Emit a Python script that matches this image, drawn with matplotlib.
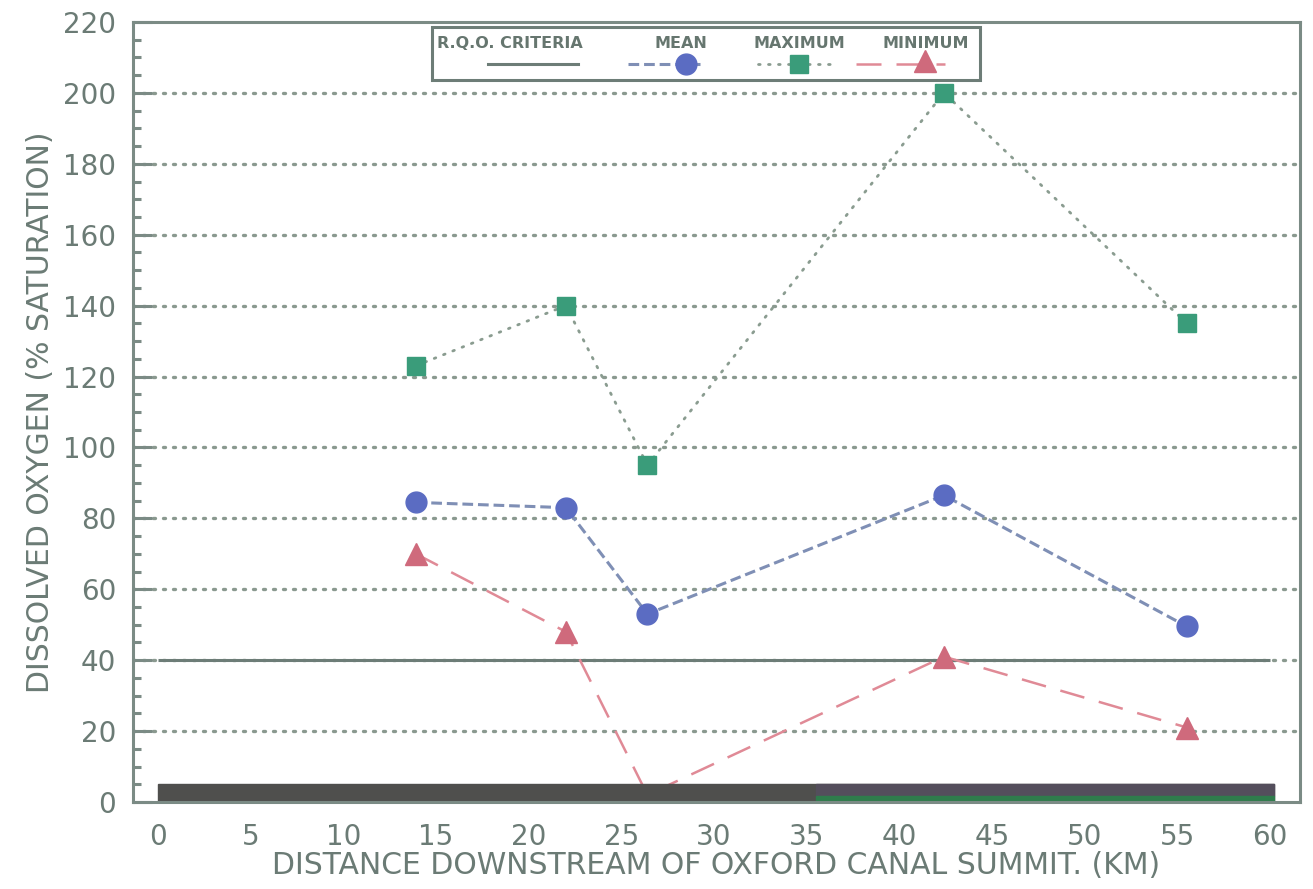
import matplotlib as mpl

mpl.use("Agg")
import matplotlib.pyplot as plt
from matplotlib.lines import Line2D
from matplotlib.patches import Rectangle
from matplotlib.ticker import MultipleLocator

# distance downstream (km) of each sampling site
distance_km = [13.9, 22.0, 26.4, 42.4, 55.5]
do_mean = [84.5, 83.0, 53.0, 86.5, 49.5]
do_max = [123.0, 140.0, 95.0, 200.0, 135.0]
do_min = [70.0, 48.0, 2.0, 41.0, 21.0]
rqo_level = 40
rqo_extent = (0, 60)

x_ticks = list(range(0, 61, 5))
y_ticks = list(range(0, 221, 20))
legend_labels = ["R.Q.O. CRITERIA", "MEAN", "MAXIMUM", "MINIMUM"]

# scanner smudge along the baseline of the original page
band_top = 5.0
band_split = 35.5

TXT = "#6b7b75"
SPINE = "#7b8b85"
GRID = "#8a998f"
BLUE = "#5b6cc2"
BLUE_LINE = "#7f8fb5"
GREEN = "#3a9c7a"
GREEN_LINE = "#8a9c90"
RED = "#cf6a7c"
RED_LINE = "#e08a96"
MIN_DASH = (0, (10, 6))

plt.rcParams["font.family"] = ["DejaVu Sans"]

fig = plt.figure(figsize=(13.13, 8.89), dpi=100)
ax = fig.add_axes([0.1013, 0.0979, 0.8887, 0.8774])
ax.set_xlim(-1.35, 61.6)
ax.set_ylim(0, 220)

for yv in y_ticks[1:-1]:
    ax.axhline(yv, color=GRID, linewidth=2.4, linestyle=(0, (0.6, 2.4)),
               dash_capstyle="round", zorder=1)

ax.hlines(rqo_level, *rqo_extent, color="#6d7d77", linewidth=2.2, zorder=2)

ax.plot(distance_km, do_max, color=GREEN_LINE, linewidth=2.0,
        linestyle=(0, (0.6, 3.0)), dash_capstyle="round", zorder=3)
ax.plot(distance_km, do_max, "s", color=GREEN, markersize=13, zorder=5)

ax.plot(distance_km, do_mean, color=BLUE_LINE, linewidth=2.2,
        linestyle=(0, (3.5, 1.6)), zorder=3)
ax.plot(distance_km, do_mean, "o", color=BLUE, markersize=15, zorder=5)

ax.plot(distance_km, do_min, color=RED_LINE, linewidth=1.8,
        linestyle=MIN_DASH, zorder=3)
ax.plot(distance_km, do_min, "^", color=RED, markersize=16, zorder=5)

# dark smudge at the foot of the plot, covers the marks under it
band_w = rqo_extent[1] + 0.2
ax.add_patch(Rectangle((0, 0), band_w, band_top, color="#4f4f4d", zorder=6))
ax.add_patch(Rectangle((band_split, 1.6), band_w - band_split,
                       band_top - 1.6, color="#544e5c", zorder=6))
ax.add_patch(Rectangle((band_split, 0), band_w - band_split, 1.6,
                       color="#2f7c4c", zorder=6))

ax.set_xticks(x_ticks)
ax.set_yticks(y_ticks)
ax.yaxis.set_minor_locator(MultipleLocator(5))
ax.tick_params(axis="x", length=0, pad=15, labelsize=20, labelcolor=TXT)
ax.tick_params(axis="y", which="major", direction="in", length=14, width=2.2,
               color=SPINE, pad=12, labelsize=20, labelcolor=TXT)
ax.tick_params(axis="y", which="minor", direction="in", length=6, width=2.2, color=SPINE)
for sp in ax.spines.values():
    sp.set_color(SPINE)
    sp.set_linewidth(2.2)
    sp.set_zorder(7)

ax.set_xlabel("DISTANCE DOWNSTREAM OF OXFORD CANAL SUMMIT. (KM)",
              fontsize=21.5, color=TXT, labelpad=0)
ax.set_ylabel("DISSOLVED OXYGEN (% SATURATION)", fontsize=21.5, color=TXT, labelpad=6)

# legend box drawn the way the original plotter laid it out: labels over samples
tr = ax.transAxes
box = Rectangle((0.256, 0.926), 0.47, 0.068, transform=tr, fill=True,
                facecolor="white", edgecolor="#6d7d77", linewidth=2.2, zorder=8)
ax.add_patch(box)
label_x = [0.323, 0.470, 0.571, 0.679]
for lx, lab in zip(label_x, legend_labels):
    ax.text(lx, 0.972, lab, transform=tr, ha="center", va="center",
            fontsize=11.5, fontweight="bold", color="#66766f", zorder=9)
ax.add_line(Line2D([0.304, 0.381], [0.946, 0.946], transform=tr, color="#6d7d77",
                   linewidth=2.2, zorder=9))
ax.add_line(Line2D([0.424, 0.486], [0.946, 0.946], transform=tr, color=BLUE_LINE,
                   linewidth=2.2, linestyle=(0, (3.5, 1.6)), zorder=9))
ax.add_line(Line2D([0.474], [0.946], transform=tr, marker="o", color=BLUE,
                   markersize=15, zorder=10))
ax.add_line(Line2D([0.536, 0.598], [0.946, 0.946], transform=tr, color=GREEN_LINE,
                   linewidth=2.0, linestyle=(0, (0.6, 3.0)), dash_capstyle="round", zorder=9))
ax.add_line(Line2D([0.571], [0.946], transform=tr, marker="s", color=GREEN,
                   markersize=13, zorder=10))
ax.add_line(Line2D([0.620, 0.696], [0.946, 0.946], transform=tr, color=RED_LINE,
                   linewidth=1.8, linestyle=MIN_DASH, zorder=9))
ax.add_line(Line2D([0.679], [0.950], transform=tr, marker="^", color=RED,
                   markersize=16, zorder=10))

fig.savefig("out.png", dpi=100)
